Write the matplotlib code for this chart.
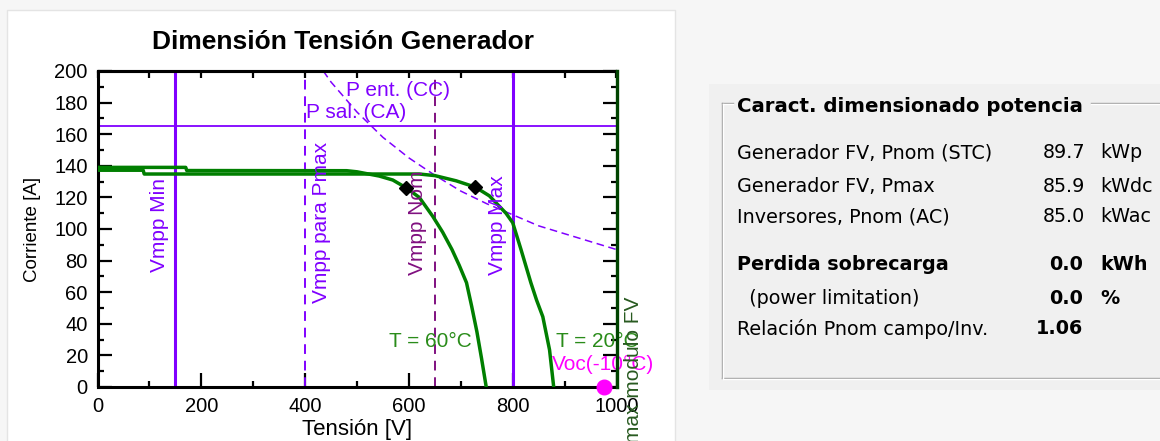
import matplotlib
matplotlib.use("Agg")
import matplotlib.pyplot as plt
from matplotlib.lines import Line2D
from matplotlib.patches import Rectangle
from matplotlib.ticker import MultipleLocator

# ---- I-V curves of the PV array (voltage in V, current in A) ----
v_60 = [0, 170, 172, 480, 500, 543, 569, 595, 620, 646, 665, 683, 697, 711, 721, 731, 740, 749]
i_60 = [139.0, 139.0, 137.0, 136.9, 136.2, 133.5, 131, 126, 120, 108, 98, 87, 77, 66, 51, 35, 18, 0]
v_20 = [0, 88, 90, 620, 650, 691, 728, 755, 787, 800, 816, 835, 846, 858, 871, 879]
i_20 = [137.2, 137.2, 134.8, 134.8, 133.8, 130.5, 126.5, 121, 110, 104, 87, 66, 55, 44.5, 23.5, 0]

# maximum power points
mpp_v = [595, 728]
mpp_i = [126, 126.5]

# inverter input power limit (constant-power curve)
p_ent_v = [435, 450, 500, 550, 600, 650, 700, 750, 800, 850, 900, 950, 1000]
p_ent_i = [200, 193, 174, 158, 145, 134, 124, 116, 109, 102, 97, 92, 87]

# inverter output current limit
p_sal_i = 165

# voltage limits
vmpp_min = 150
vmpp_pmax = 400
vmpp_nom = 650
vmpp_max = 800
vmax_mod = 1000
voc_m10 = 975

# summary table
rows = [
    ("Generador FV, Pnom (STC)", "89.7", "kWp", False),
    ("Generador FV, Pmax", "85.9", "kWdc", False),
    ("Inversores, Pnom (AC)", "85.0", "kWac", False),
    ("Perdida sobrecarga", "0.0", "kWh", True),
    ("  (power limitation)", "0.0", "%", True),
    ("Relación Pnom campo/Inv.", "1.06", "", True),
]

W, H = 1160, 441
VIOLET = "#8000ff"
PURPLE = "#801080"
GREEN = "#007f00"
DKGREEN = "#004400"
LBLGREEN = "#2a8c1a"
MAGENTA = "#ff00ff"
CHART_FONT = ["Liberation Sans", "DejaVu Sans"]
PANEL_FONT = ["DejaVu Sans"]


def fx(px):
    return px / W


def fy(py):
    return 1 - py / H


fig = plt.figure(figsize=(W / 100, H / 100), dpi=100, facecolor="#f6f6f6")

# white chart panel and grey info panel (kept beneath the axes)
fig.patches.append(Rectangle((fx(7), fy(445)), fx(675) - fx(7), fy(10) - fy(445),
                             transform=fig.transFigure, facecolor="white",
                             edgecolor="#e4e4e4", lw=1, zorder=-5))
fig.patches.append(Rectangle((fx(709), fy(390)), fx(1162) - fx(709), fy(84) - fy(390),
                             transform=fig.transFigure, facecolor="#f0f0f0",
                             edgecolor="none", zorder=-5))


def fline(xs, ys, color, lw=1.0):
    fig.lines.append(Line2D([fx(x) for x in xs], [fy(y) for y in ys],
                            transform=fig.transFigure, color=color, lw=lw, zorder=-4))


# group box frame (etched look)
for off, col in ((0, "#a0a0a0"), (1, "#ffffff")):
    fline([722 + off, 722 + off], [103 + off, 378 + off], col)
    fline([722 + off, 1162], [378 + off, 378 + off], col)
    fline([722 + off, 733], [103 + off, 103 + off], col)
    fline([1091, 1162], [103 + off, 103 + off], col)

ax = fig.add_axes([fx(97.5), fy(387), fx(616.5) - fx(97.5), fy(71) - fy(387)])
ax.set_zorder(1)
ax.set_xlim(0, 1000)
ax.set_ylim(0, 200)

# vertical voltage limits
ax.axvline(vmpp_min, color=VIOLET, lw=2.2, zorder=2)
ax.axvline(vmpp_max, color=VIOLET, lw=2.2, zorder=2)
ax.axvline(vmpp_pmax, color=VIOLET, lw=1.4, ls=(0, (5, 3.5)), zorder=2)
ax.axvline(vmpp_nom, color=PURPLE, lw=1.4, ls=(0, (5, 3.5)), zorder=2)
ax.axhline(p_sal_i, color=VIOLET, lw=1.3, zorder=2)
ax.plot(p_ent_v, p_ent_i, color=VIOLET, lw=1.1, ls=(0, (5, 3)), zorder=2)

# I-V curves
ax.plot(v_20, i_20, color=GREEN, lw=2.5, zorder=3, solid_joinstyle="round")
ax.plot(v_60, i_60, color=GREEN, lw=2.5, zorder=3, solid_joinstyle="round")
ax.plot(mpp_v, mpp_i, ls="none", marker="D", ms=7.5, color="black", zorder=4)
ax.plot([voc_m10], [0], ls="none", marker="o", ms=10.5, color=MAGENTA,
        zorder=5, clip_on=False)
ax.axvline(vmax_mod, color=DKGREEN, lw=2.4, zorder=4, clip_on=False)

lbl = dict(fontfamily=CHART_FONT, fontsize=15, rotation=90)
ax.text(119.5, 73, "Vmpp Min", color=VIOLET, ha="center", va="bottom", **lbl)
ax.text(431, 53.3, "Vmpp para Pmax", color=VIOLET, ha="center", va="bottom", **lbl)
ax.text(616.6, 71, "Vmpp Nom", color=PURPLE, ha="center", va="bottom", **lbl)
ax.text(770.7, 71, "Vmpp Max", color=VIOLET, ha="center", va="bottom", **lbl)

txt = dict(fontfamily=CHART_FONT, fontsize=15)
ax.text(478, 187.5, "P ent. (CC)", color=VIOLET, ha="left", va="center", **txt)
ax.text(401.7, 173.6, "P sal. (CA)", color=VIOLET, ha="left", va="center", **txt)
ax.text(560.7, 28.7, "T = 60°C", color=LBLGREEN, ha="left", va="center", **txt)
ax.text(882.5, 28.7, "T = 20°C", color=LBLGREEN, ha="left", va="center", **txt)
ax.text(874.8, 14, "Voc(-10°C)", color=MAGENTA, ha="left", va="center", **txt)
ax.text(1033, 57, "Vmax modulo FV", color="#285a20", ha="center", va="top",
        clip_on=False, **lbl)

# axes styling
for side in ("left", "bottom", "top"):
    ax.spines[side].set_linewidth(2.2)
    ax.spines[side].set_color("black")
ax.spines["right"].set_visible(False)

ax.xaxis.set_major_locator(MultipleLocator(200))
ax.xaxis.set_minor_locator(MultipleLocator(100))
ax.yaxis.set_major_locator(MultipleLocator(20))
ax.yaxis.set_minor_locator(MultipleLocator(10))
ax.tick_params(axis="x", which="major", direction="in", length=10, width=1.6,
               pad=7, labelsize=14.5, bottom=True, top=False)
ax.tick_params(axis="x", which="minor", direction="in", length=4, width=1.6,
               bottom=True, top=False)
ax.tick_params(axis="y", which="major", direction="in", length=10, width=1.6,
               pad=7, labelsize=14.5, left=True, right=True)
ax.tick_params(axis="y", which="minor", direction="in", length=4, width=1.6,
               left=True, right=True)
for t in ax.get_xticklabels() + ax.get_yticklabels():
    t.set_fontfamily(CHART_FONT)

top = ax.secondary_xaxis("top")
top.xaxis.set_major_locator(MultipleLocator(100))
top.tick_params(direction="in", length=5, width=1.6, labeltop=False)
top.spines["top"].set_linewidth(2.2)

ax.set_xlabel("Tensión [V]", fontfamily=CHART_FONT, fontsize=16)
ax.set_ylabel("Corriente [A]", fontfamily=CHART_FONT, fontsize=13.5)
ax.xaxis.set_label_coords(0.5, -(419 - 387) / 316)
ax.yaxis.set_label_coords((41 - 97.5) / 519, 0.5)

fig.text(fx(343), fy(42), "Dimensión Tensión Generador", fontfamily=CHART_FONT,
         fontsize=19, fontweight="bold", ha="center", va="center")

# info panel
fig.text(fx(737), fy(107), "Caract. dimensionado potencia", fontfamily=PANEL_FONT,
         fontsize=14.2, fontweight="bold", ha="left", va="center",
         bbox=dict(facecolor="#f0f0f0", edgecolor="none", pad=1))
row_y = [153, 186, 217, 265, 298, 329]
for (label, val, unit, bold), y in zip(rows, row_y):
    w_lbl = "bold" if label.startswith("Perdida") else "normal"
    fig.text(fx(737), fy(y), label, fontfamily=PANEL_FONT, fontsize=13.8,
             fontweight=w_lbl, ha="left", va="center")
    fig.text(fx(1085 if not bold else 1083), fy(y), val, fontfamily=PANEL_FONT,
             fontsize=13.8, fontweight="bold" if bold else "normal",
             ha="right", va="center")
    if unit:
        fig.text(fx(1100), fy(y), unit, fontfamily=PANEL_FONT, fontsize=13.8,
                 fontweight="bold" if bold else "normal", ha="left", va="center")

fig.savefig("out.png", dpi=100, facecolor=fig.get_facecolor())
